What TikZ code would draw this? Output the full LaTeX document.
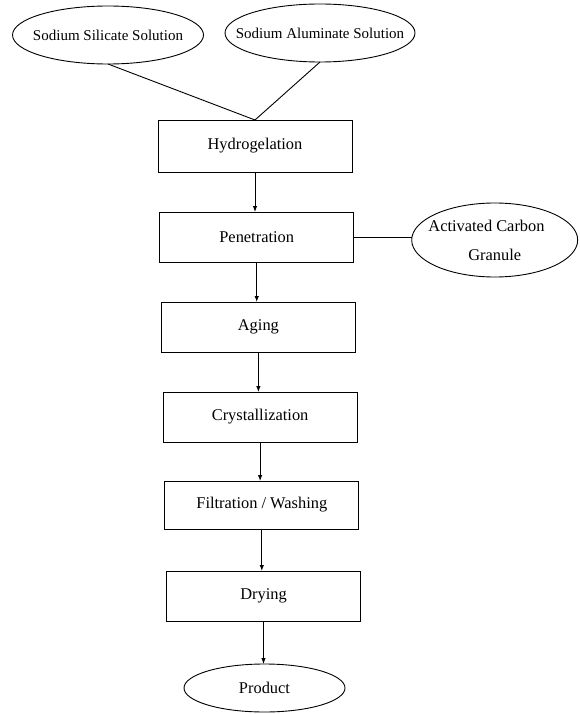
\documentclass[tikz,border=0pt]{standalone}
\usepackage{fontspec}
\setmainfont{Liberation Serif}
\usetikzlibrary{positioning,shapes.geometric,arrows.meta}

\tikzset{
stepbox/.style={draw,line width=0.9pt,minimum width=194pt,minimum height=50pt,outer sep=0pt,font=\fontsize{16.4}{19}\selectfont},
oval/.style={draw,ellipse,line width=0.9pt,inner sep=0pt,inner xsep=-30pt,outer sep=0pt,align=center,font=\fontsize{16.4}{19}\selectfont},
source/.style={oval,font=\fontsize{15}{18}\selectfont,minimum height=58pt},
flow/.style={line width=0.9pt,-{Latex[length=6pt,width=4.5pt]}},
link/.style={line width=0.9pt}
}

\begin{document}
\begin{tikzpicture}
\useasboundingbox (0,0) rectangle (580pt,-714pt);
% raw materials
\node (sil) [source,minimum width=191pt] at (108pt,-35pt) {Sodium Silicate Solution};
\node (alu) [source,minimum width=190pt] at (320pt,-33pt) {Sodium Aluminate Solution};
% process steps
\node (hyd) [stepbox,minimum height=52pt] at (255pt,-146pt) {Hydrogelation};
\node (pen) [stepbox,below=40pt of hyd,xshift=1.7pt] {Penetration};
\node (agi) [stepbox,below=40pt of pen,xshift=1.7pt] {Aging};
\node (cry) [stepbox,below=40pt of agi,xshift=1.7pt] {Crystallization};
\node (fil) [stepbox,below=39pt of cry,xshift=1.7pt,minimum height=48pt] {Filtration / Washing};
\node (dry) [stepbox,below=42pt of fil,xshift=1.7pt] {Drying};
\node (prd) [oval,minimum width=161pt,minimum height=48pt,below=43pt of dry,xshift=1pt] {Product};
\node (acg) [oval,minimum width=166pt,minimum height=74pt,right=58pt of pen,yshift=-3pt] {\hspace*{-1em}Activated Carbon\\[10pt]Granule};
% connectors
\draw[link] (sil.south) -- (hyd.north);
\draw[link] (alu.south) -- (hyd.north);
\draw[link] (pen.east) -- (pen.east -| acg.west);
\foreach \a/\b in {hyd/pen,pen/agi,agi/cry,cry/fil,fil/dry,dry/prd}
  \draw[flow] (\a.south) -- (\a.south |- \b.north);
\end{tikzpicture}
\end{document}
